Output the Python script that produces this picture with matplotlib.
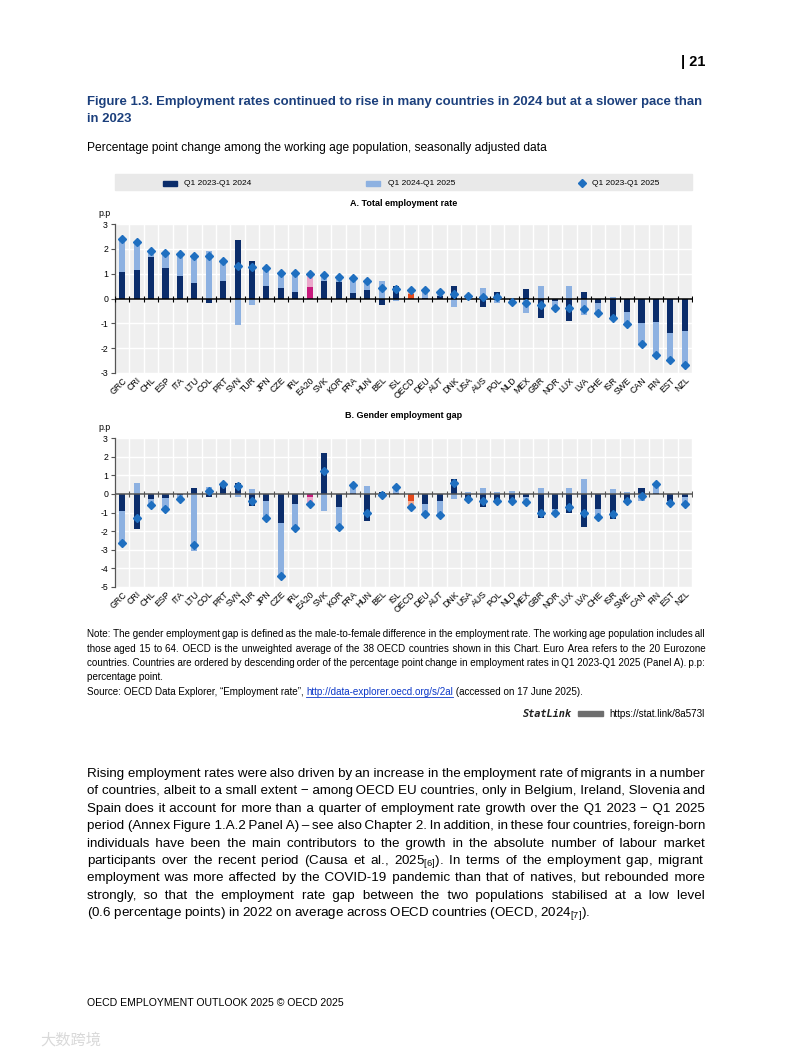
import numpy as np
import matplotlib
matplotlib.use('Agg')
import matplotlib.pyplot as plt
from matplotlib import font_manager
from matplotlib.ft2font import FT2Font
from matplotlib.patches import Rectangle
from matplotlib.lines import Line2D

plt.rcParams['axes.unicode_minus'] = False
plt.rcParams['mathtext.default'] = 'regular'

names = {f.name for f in font_manager.fontManager.ttflist}
NARROW = 'Liberation Sans Narrow' if 'Liberation Sans Narrow' in names else 'Liberation Sans'
SANS = 'Liberation Sans'
HAIR = '\u200a'
THIN = '\u2009'

countries = ['GRC', 'CRI', 'CHL', 'ESP', 'ITA', 'LTU', 'COL', 'PRT', 'SVN', 'TUR',
             'JPN', 'CZE', 'IRL', 'EA20', 'SVK', 'KOR', 'FRA', 'HUN', 'BEL', 'ISL',
             'OECD', 'DEU', 'AUT', 'DNK', 'USA', 'AUS', 'POL', 'NLD', 'MEX', 'GBR',
             'NOR', 'LUX', 'LVA', 'CHE', 'ISR', 'SWE', 'CAN', 'FIN', 'EST', 'NZL']

# Panel A: total employment rate (p.p.)
a_2324 = [1.05, 1.15, 1.68, 1.22, 0.90, 0.62, -0.20, 0.70, 2.35, 1.52,
          0.50, 0.42, 0.27, 0.45, 0.70, 0.67, 0.22, 0.35, -0.28, 0.50,
          0.20, 0.02, 0.10, 0.50, 0.05, -0.33, 0.28, -0.05, 0.38, -0.78,
          -0.10, -0.92, 0.25, -0.20, -0.85, -0.55, -0.98, -0.95, -1.38, -1.30]
a_2425 = [1.35, 1.13, 0.24, 0.63, 0.90, 1.08, 1.90, 0.80, -1.05, -0.25,
          0.72, 0.60, 0.75, 0.52, 0.26, 0.20, 0.60, 0.37, 0.72, -0.10,
          0.13, 0.31, 0.15, -0.33, 0.08, 0.42, -0.20, -0.08, -0.57, 0.50,
          -0.27, 0.50, -0.68, -0.37, 0.07, -0.48, -0.85, -1.32, -1.10, -1.37]
a_total = [2.40, 2.28, 1.92, 1.85, 1.80, 1.70, 1.70, 1.50, 1.30, 1.27,
           1.22, 1.02, 1.02, 0.97, 0.96, 0.87, 0.82, 0.72, 0.44, 0.40,
           0.33, 0.33, 0.25, 0.17, 0.10, 0.08, 0.05, -0.13, -0.19, -0.28,
           -0.37, -0.40, -0.43, -0.57, -0.78, -1.03, -1.85, -2.27, -2.48, -2.68]

# Panel B: gender employment gap (p.p.)
b_2324 = [-0.90, -1.90, -0.25, -0.20, -0.05, 0.30, -0.18, 0.60, 0.60, -0.65,
          -0.40, -1.55, -0.55, -0.15, 2.20, -0.70, 0.05, -1.48, 0.10, 0.05,
          -0.40, -0.55, -0.40, 0.80, -0.38, -0.70, -0.50, -0.50, -0.15, -1.30,
          -0.80, -1.00, -1.80, -0.80, -1.35, -0.50, 0.30, 0.05, -0.40, -0.15]
b_2425 = [-1.75, 0.60, -0.35, -0.60, -0.20, -3.05, 0.35, -0.07, -0.17, 0.25,
          -0.90, -2.85, -1.30, -0.40, -0.90, -1.10, 0.40, 0.42, -0.15, 0.30,
          -0.30, -0.55, -0.75, -0.30, 0.10, 0.32, 0.10, 0.15, -0.30, 0.30,
          -0.25, 0.30, 0.80, -0.45, 0.25, 0.10, -0.40, 0.50, -0.10, -0.40]
b_total = [-2.65, -1.30, -0.60, -0.80, -0.25, -2.75, 0.17, 0.55, 0.40, -0.40,
           -1.30, -4.40, -1.85, -0.55, 1.22, -1.80, 0.45, -1.05, -0.05, 0.35,
           -0.70, -1.10, -1.15, 0.60, -0.28, -0.40, -0.40, -0.38, -0.45, -1.00,
           -1.05, -0.70, -1.00, -1.25, -1.10, -0.40, -0.10, 0.55, -0.50, -0.55]

legend_labels = ['Q1 2023-Q1 2024', 'Q1 2024-Q1 2025', 'Q1 2023-Q1 2025']

DARK = '#0b2d6b'
LIGHT = '#8db1e1'
DIAM = '#1f6fc0'
special = {'EA20': ('#c8197c', '#eba6cb'), 'OECD': ('#e4491c', '#f5ab90')}
BG = '#efefef'
MS = 3.9

W, H = 793, 1057
fig = plt.figure(figsize=(W / 100, H / 100), dpi=100)
fig.patch.set_facecolor('white')


def fx(px):
    return px / W


def fy(py):
    return 1 - py / H


def draw_panel(ax, d1, d2, tot, ylim, zero_color):
    x = np.arange(len(countries))
    d1 = np.array(d1)
    d2 = np.array(d2)
    c1 = [special.get(c, (DARK, LIGHT))[0] for c in countries]
    c2 = [special.get(c, (DARK, LIGHT))[1] for c in countries]
    bottom2 = np.where(np.sign(d1) == np.sign(d2), d1, 0)
    ax.set_facecolor(BG)
    for b in np.arange(-0.5, len(countries), 1.0):
        ax.axvline(b, color='white', lw=1.0, zorder=0.5)
    for t in range(ylim[0], ylim[1] + 1):
        ax.axhline(t, color='white', lw=1.0, zorder=0.5)
    ax.bar(x, d1, width=0.42, color=c1, zorder=2)
    ax.bar(x, d2, width=0.42, bottom=bottom2, color=c2, zorder=2)
    ax.axhline(0, color=zero_color, lw=1.1, zorder=3)
    ax.plot(np.arange(-0.5, len(countries) + 0.5, 1.0), np.zeros(len(countries) + 1),
            ls='none', marker='|', ms=4, mew=0.8, color=zero_color, zorder=3)
    ax.plot(x, tot, ls='none', marker='D', ms=MS, color=DIAM, zorder=4)
    ax.set_xlim(-0.5, len(countries) - 0.5)
    ax.set_ylim(ylim)
    ax.set_yticks(range(ylim[0], ylim[1] + 1))
    ax.set_xticks(x)
    ax.set_xticklabels(countries, rotation=45, ha='right', rotation_mode='anchor',
                       fontsize=6.3, family=NARROW)
    for lab in ax.get_yticklabels():
        lab.set_family(NARROW)
        lab.set_fontsize(6.3)
    ax.tick_params(axis='x', length=0, pad=2)
    ax.tick_params(axis='y', length=3, width=0.8, color='#555555', pad=2)
    for s in ['top', 'right', 'bottom']:
        ax.spines[s].set_visible(False)
    ax.spines['left'].set_color('#555555')
    ax.spines['left'].set_linewidth(0.9)


axA = fig.add_axes([fx(115), fy(373), fx(692) - fx(115), fy(224) - fy(373)])
draw_panel(axA, a_2324, a_2425, a_total, (-3, 3), 'black')
axB = fig.add_axes([fx(115), fy(587), fx(692) - fx(115), fy(438) - fy(587)])
draw_panel(axB, b_2324, b_2425, b_total, (-5, 3), '#555555')

fig.text(fx(98), fy(214), 'p.p', fontsize=6.3, family=NARROW, va='center')
fig.text(fx(98), fy(428), 'p.p', fontsize=6.3, family=NARROW, va='center')
fig.text(fx(403.5), fy(203), 'A. Total employment rate', fontsize=6.5, family=NARROW,
         weight='bold', ha='center', va='center')
fig.text(fx(403.5), fy(416), 'B. Gender employment gap', fontsize=6.5, family=NARROW,
         weight='bold', ha='center', va='center')

# legend band
fig.patches.append(Rectangle((fx(115), fy(190)), fx(692) - fx(115), fy(174) - fy(190),
                             transform=fig.transFigure, color='#e9e9e9', zorder=0))
fig.patches.append(Rectangle((fx(163), fy(186)), fx(14), fy(0) - fy(5.5),
                             transform=fig.transFigure, color=DARK))
fig.patches.append(Rectangle((fx(366), fy(186)), fx(14), fy(0) - fy(5.5),
                             transform=fig.transFigure, color=LIGHT))
fig.lines.append(Line2D([fx(581.5)], [fy(183)], transform=fig.transFigure, marker='D',
                        ms=MS, color=DIAM, ls='none'))
for xp, lab in zip([184, 388, 592], legend_labels):
    fig.text(fx(xp), fy(183.5), lab, fontsize=6.0, family=NARROW, va='center')

# page text
fig.text(fx(705), fy(62), '| 21', fontsize=10.5, family=SANS, weight='bold',
         ha='right', va='center')

renderer = fig.canvas.get_renderer()


def width_of(s, size, family):
    t = fig.text(0, 0, s, fontsize=size, family=family)
    w = t.get_window_extent(renderer).width
    t.remove()
    return w


def has_chars(family, chars):
    path = font_manager.findfont(font_manager.FontProperties(family=family))
    f = FT2Font(path)
    return all(f.get_char_index(ord(c)) != 0 for c in chars)


def text_line(x0, x1, y, line, size, family, justify=True):
    # justified line drawn as one text: hair spaces widen, thin spaces tighten
    if justify and has_chars(family, HAIR + THIN):
        words = line.split(' ')
        gaps = len(words) - 1
        base_w = width_of('aa', size, family)
        sp = width_of('a a', size, family) - base_w
        hair = (width_of('a' + HAIR * 20 + 'a', size, family) - base_w) / 20
        thin = (width_of('a' + THIN * 20 + 'a', size, family) - base_w) / 20
        extra = (x1 - x0) - width_of(line, size, family)
        seps = [' '] * gaps
        if extra >= 0 and hair > 0:
            k = int(round(extra / hair))
            base, rem = divmod(k, gaps)
            for i in range(gaps):
                n = base + (1 if (i * rem) // gaps != ((i + 1) * rem) // gaps else 0)
                seps[i] = ' ' + HAIR * n
        elif extra < 0 and sp - thin > 0:
            m = min(gaps, int(round(-extra / (sp - thin))))
            for i in range(gaps):
                if (i * m) // gaps != ((i + 1) * m) // gaps:
                    seps[i] = THIN
        s = words[0]
        for i in range(gaps):
            s += seps[i] + words[i + 1]
        line = s
    fig.text(fx(x0), fy(y), line, fontsize=size, family=family, va='baseline')


title_lines = ['Figure 1.3. Employment rates continued to rise in many countries in 2024 but at a slower pace than',
               'in 2023']
for i, ln in enumerate(title_lines):
    fig.text(fx(87), fy(105 + i * 17), ln, fontsize=9.45, family=NARROW, color='#1b3f7c',
             weight='bold', va='baseline')
fig.text(fx(87), fy(151), 'Percentage point change among the working age population, seasonally adjusted data',
         fontsize=8.65, family=NARROW, va='baseline')

note_lines = ['Note: The gender employment gap is defined as the male-to-female difference in the employment rate. The working age population includes all',
              'those aged 15 to 64. OECD is the unweighted average of the 38 OECD countries shown in this Chart. Euro Area refers to the 20 Eurozone',
              'countries. Countries are ordered by descending order of the percentage point change in employment rates in Q1 2023-Q1 2025 (Panel A). p.p:',
              'percentage point.']
for i, ln in enumerate(note_lines):
    text_line(87, 705, 637 + i * 14.5, ln, 7.1, NARROW, justify=(i < 3))

# source line with link
src_y = 637 + 4 * 14.5
parts = [('Source: OECD Data Explorer, “Employment rate”, ', 'black'),
         ('http://data-explorer.oecd.org/s/2al', '#0b37c8'),
         (' (accessed on 17 June 2025).', 'black')]
xp = 87
for txt, col in parts:
    t = fig.text(fx(xp), fy(src_y), txt, fontsize=7.1, family=NARROW, color=col, va='baseline')
    wd = t.get_window_extent(renderer).width
    if col != 'black':
        fig.lines.append(Line2D([fx(xp), fx(xp + wd)], [fy(src_y + 1.5)] * 2,
                                transform=fig.transFigure, color=col, lw=0.6))
    xp += wd

# StatLink
fig.text(fx(705), fy(717), 'https://stat.link/8a573l', fontsize=7.1, family=NARROW,
         ha='right', va='baseline')
fig.patches.append(Rectangle((fx(578), fy(716)), fx(25), fy(0) - fy(5),
                             transform=fig.transFigure, color='#6e6e6e'))
fig.text(fx(572), fy(717), 'StatLink', fontsize=7.4, family='DejaVu Sans Mono',
         style='italic', weight='bold', ha='right', va='baseline', color='#222222')

body_lines = ['Rising employment rates were also driven by an increase in the employment rate of migrants in a number',
              'of countries, albeit to a small extent − among OECD EU countries, only in Belgium, Ireland, Slovenia and',
              'Spain does it account for more than a quarter of employment rate growth over the Q1 2023 − Q1 2025',
              'period (Annex Figure 1.A.2 Panel A) – see also Chapter 2. In addition, in these four countries, foreign-born',
              'individuals have been the main contributors to the growth in the absolute number of labour market',
              'participants over the recent period (Causa et al., 2025$_{[6]}$). In terms of the employment gap, migrant',
              'employment was more affected by the COVID-19 pandemic than that of natives, but rebounded more',
              'strongly, so that the employment rate gap between the two populations stabilised at a low level',
              '(0.6 percentage points) in 2022 on average across OECD countries (OECD, 2024$_{[7]}$).']
for i, ln in enumerate(body_lines):
    text_line(87, 705, 777 + i * 17.4, ln, 9.6, SANS, justify=(i < len(body_lines) - 1))

fig.text(fx(87), fy(1006), 'OECD EMPLOYMENT OUTLOOK 2025 © OECD 2025', fontsize=7.6,
         family=SANS, va='baseline')
fig.text(fx(40), fy(1040), '大数跨境', fontsize=11, family=['Noto Sans CJK SC', 'DejaVu Sans'],
         color='#d9d9d9', va='center')

fig.savefig('out.png', dpi=100, facecolor='white')
